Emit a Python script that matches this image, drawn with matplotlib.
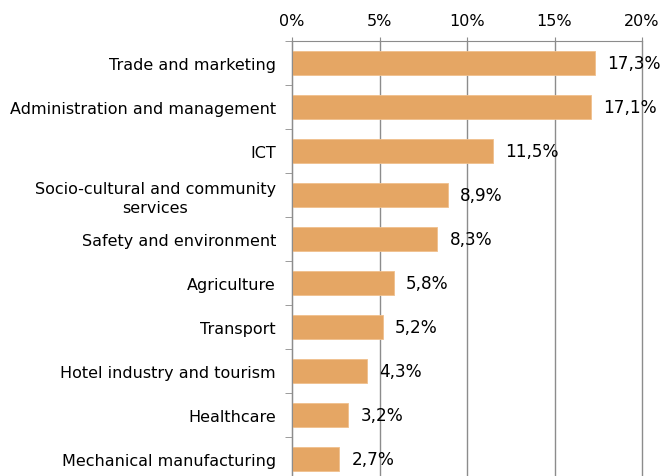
import numpy as np
import matplotlib.pyplot as plt

# Sectores y porcentajes
sectores = ["Trade and marketing", "Administration and management", "ICT",
            "Socio-cultural and community\nservices", "Safety and environment",
            "Agriculture", "Transport", "Hotel industry and tourism",
            "Healthcare", "Mechanical manufacturing"]
valores = [17.3, 17.1, 11.5, 8.9, 8.3, 5.8, 5.2, 4.3, 3.2, 2.7]
ticks_x = [0, 5, 10, 15, 20]

fig = plt.figure(figsize=(6.6, 4.77), dpi=100)
ax = fig.add_axes([292/660, (477-482)/477, 350/660, 440/477])

y = np.arange(len(sectores))
ax.barh(y, valores, height=0.55, color="#E5A664", edgecolor="#F0C08C", linewidth=0.6, zorder=2)
for yi, v in zip(y, valores):
    ax.text(v + 0.7, yi, f"{v:.1f}%".replace(".", ","), va="center", ha="left", fontsize=12.2, zorder=3)

ax.set_ylim(len(sectores) - 0.5, -0.5)
ax.set_xlim(0, 20)
ax.set_xticks(ticks_x)
ax.set_xticklabels([f"{t}%" for t in ticks_x], fontsize=11.5)
ax.xaxis.tick_top()
ax.grid(axis="x", color="#8C8C8C", linewidth=1, zorder=1)
for gl in ax.get_xgridlines():
    gl.set_clip_on(False)
ax.tick_params(axis="x", length=3, color="#8C8C8C", pad=6)

ax.set_yticks(y)
ax.set_yticklabels(sectores, fontsize=11.5, ha="right")
ax.set_yticks(np.arange(len(sectores) + 1) - 0.5, minor=True)
ax.tick_params(axis="y", which="major", length=0, pad=11.5)
ax.tick_params(axis="y", which="minor", length=5, color="#8C8C8C")
for t in ax.get_yticklabels():
    t.set_multialignment("center")
    t.set_linespacing(1.3)

for s in ["right", "bottom"]:
    ax.spines[s].set_visible(False)
ax.spines["left"].set_color("#8C8C8C")
ax.spines["top"].set_color("#8C8C8C")

fig.savefig("out.png", dpi=100)
